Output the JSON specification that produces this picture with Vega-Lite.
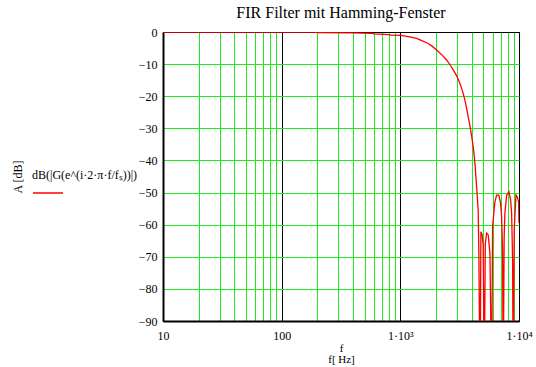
{
  "$schema": "https://vega.github.io/schema/vega-lite/v6.json",
  "width": 356,
  "height": 289,
  "autosize": {"type": "none"},
  "padding": {"left": 163, "top": 32, "right": 17, "bottom": 46},
  "background": "white",
  "title": {
    "text": "FIR Filter mit Hamming-Fenster",
    "font": "Liberation Serif",
    "fontSize": 16,
    "fontWeight": "normal",
    "color": "black",
    "anchor": "middle",
    "offset": 5
  },
  "data": {
    "values": [
      {"f": 10, "A": 0, "s": "G"},
      {"f": 100, "A": 0, "s": "G"},
      {"f": 190, "A": 0, "s": "G"},
      {"f": 200, "A": -0.2, "s": "G"},
      {"f": 400, "A": -0.3, "s": "G"},
      {"f": 580, "A": -0.4, "s": "G"},
      {"f": 600, "A": -0.6, "s": "G"},
      {"f": 800, "A": -0.8, "s": "G"},
      {"f": 820, "A": -1.0, "s": "G"},
      {"f": 1000, "A": -1.05, "s": "G"},
      {"f": 1100, "A": -1.3, "s": "G"},
      {"f": 1200, "A": -1.55, "s": "G"},
      {"f": 1371, "A": -2.0, "s": "G"},
      {"f": 1500, "A": -2.6, "s": "G"},
      {"f": 1700, "A": -3.5, "s": "G"},
      {"f": 1850, "A": -4.4, "s": "G"},
      {"f": 2024, "A": -5.6, "s": "G"},
      {"f": 2250, "A": -7.2, "s": "G"},
      {"f": 2455, "A": -8.7, "s": "G"},
      {"f": 2620, "A": -10.2, "s": "G"},
      {"f": 2793, "A": -11.8, "s": "G"},
      {"f": 3000, "A": -13.8, "s": "G"},
      {"f": 3178, "A": -16, "s": "G"},
      {"f": 3350, "A": -18.5, "s": "G"},
      {"f": 3500, "A": -21.2, "s": "G"},
      {"f": 3620, "A": -23.8, "s": "G"},
      {"f": 3733, "A": -26.4, "s": "G"},
      {"f": 3820, "A": -28.4, "s": "G"},
      {"f": 3911, "A": -30.5, "s": "G"},
      {"f": 4010, "A": -33, "s": "G"},
      {"f": 4113, "A": -35.7, "s": "G"},
      {"f": 4200, "A": -38.8, "s": "G"},
      {"f": 4276, "A": -42, "s": "G"},
      {"f": 4330, "A": -45, "s": "G"},
      {"f": 4393, "A": -48.2, "s": "G"},
      {"f": 4460, "A": -51.8, "s": "G"},
      {"f": 4530, "A": -55.5, "s": "G"},
      {"f": 4592, "A": -70, "s": "G"},
      {"f": 4688, "A": -110, "s": "G"},
      {"f": 4700, "A": -110, "s": "G"},
      {"f": 4775, "A": -62.2, "s": "G"},
      {"f": 4880, "A": -63, "s": "G"},
      {"f": 4993, "A": -66.4, "s": "G"},
      {"f": 5093, "A": -110, "s": "G"},
      {"f": 5200, "A": -66, "s": "G"},
      {"f": 5336, "A": -62.6, "s": "G"},
      {"f": 5505, "A": -63.2, "s": "G"},
      {"f": 5690, "A": -69, "s": "G"},
      {"f": 5878, "A": -110, "s": "G"},
      {"f": 5994, "A": -60.6, "s": "G"},
      {"f": 6146, "A": -56, "s": "G"},
      {"f": 6269, "A": -52.9, "s": "G"},
      {"f": 6478, "A": -50.8, "s": "G"},
      {"f": 6771, "A": -50.8, "s": "G"},
      {"f": 6998, "A": -53.3, "s": "G"},
      {"f": 7135, "A": -57.5, "s": "G"},
      {"f": 7271, "A": -68, "s": "G"},
      {"f": 7362, "A": -110, "s": "G"},
      {"f": 7500, "A": -63.8, "s": "G"},
      {"f": 7603, "A": -56.5, "s": "G"},
      {"f": 7863, "A": -50.8, "s": "G"},
      {"f": 8225, "A": -49.7, "s": "G"},
      {"f": 8497, "A": -52.3, "s": "G"},
      {"f": 8664, "A": -56.4, "s": "G"},
      {"f": 8832, "A": -71, "s": "G"},
      {"f": 8935, "A": -110, "s": "G"},
      {"f": 9116, "A": -61.7, "s": "G"},
      {"f": 9425, "A": -50.8, "s": "G"},
      {"f": 9661, "A": -51.3, "s": "G"},
      {"f": 9932, "A": -53, "s": "G"},
      {"f": 10000, "A": -59.5, "s": "G"}
    ]
  },
  "mark": {"type": "line", "clip": true, "strokeWidth": 1.3},
  "encoding": {
    "x": {
      "field": "f",
      "type": "quantitative",
      "scale": {"type": "log", "domain": [10, 10000], "nice": false},
      "axis": {
        "values": [10, 20, 30, 40, 50, 60, 70, 80, 90, 100, 200, 300, 400, 500, 600, 700, 800, 900, 1000, 2000, 3000, 4000, 5000, 6000, 7000, 8000, 9000, 10000],
        "labelExpr": "datum.value == 10 ? '10' : datum.value == 100 ? '100' : datum.value == 1000 ? '1·10³' : datum.value == 10000 ? '1·10⁴' : ''",
        "labelOverlap": false,
        "labelFlush": false,
        "labelBound": false,
        "labelPadding": 9,
        "labelFont": "Liberation Serif",
        "labelFontSize": 12,
        "labelColor": "black",
        "ticks": false,
        "tickSize": 0,
        "domain": true,
        "domainColor": "black",
        "domainWidth": 2,
        "grid": true,
        "gridColor": {"condition": {"test": "datum.value == 10 || datum.value == 100 || datum.value == 1000 || datum.value == 10000", "value": "black"}, "value": "#22e622"},
        "gridOpacity": 1,
        "gridWidth": 1,
        "title": ["f", "f[ Hz]"],
        "titleFont": "Liberation Serif",
        "titleFontSize": 11,
        "titleFontWeight": "normal",
        "titleColor": "black",
        "titleLineHeight": 11,
        "titlePadding": 1
      }
    },
    "y": {
      "field": "A",
      "type": "quantitative",
      "scale": {"domain": [-90, 0], "nice": false},
      "axis": {
        "values": [0, -10, -20, -30, -40, -50, -60, -70, -80, -90],
        "labelPadding": 6,
        "labelFont": "Liberation Serif",
        "labelFontSize": 12,
        "labelColor": "black",
        "ticks": false,
        "tickSize": 0,
        "domain": true,
        "domainColor": "black",
        "domainWidth": 2,
        "grid": true,
        "gridColor": {"condition": {"test": "datum.value == 0 || datum.value == -90", "value": "black"}, "value": "#22e622"},
        "gridOpacity": 1,
        "gridWidth": 1,
        "title": "A [dB]",
        "titleFont": "Liberation Serif",
        "titleFontSize": 12,
        "titleFontWeight": "normal",
        "titleColor": "black",
        "titleX": -139
      }
    },
    "color": {
      "field": "s",
      "type": "nominal",
      "scale": {"range": ["#ff0000"]},
      "legend": {
        "orient": "none",
        "legendX": -131,
        "legendY": 138,
        "title": "dB(|G(e^(i·2·π·f/fₛ))|)",
        "titleFont": "Liberation Serif",
        "titleFontSize": 12,
        "titleFontWeight": "normal",
        "titleColor": "black",
        "titlePadding": -5,
        "labelExpr": "''",
        "labelFont": "Liberation Serif",
        "symbolType": "stroke",
        "symbolSize": 900,
        "symbolStrokeWidth": 1.5,
        "padding": 0,
        "rowPadding": 0
      }
    }
  },
  "config": {
    "font": "Liberation Serif",
    "axis": {"labelFont": "Liberation Serif", "titleFont": "Liberation Serif"},
    "legend": {"labelFont": "Liberation Serif", "titleFont": "Liberation Serif"},
    "view": {"stroke": "black", "strokeWidth": 1}
  }
}
